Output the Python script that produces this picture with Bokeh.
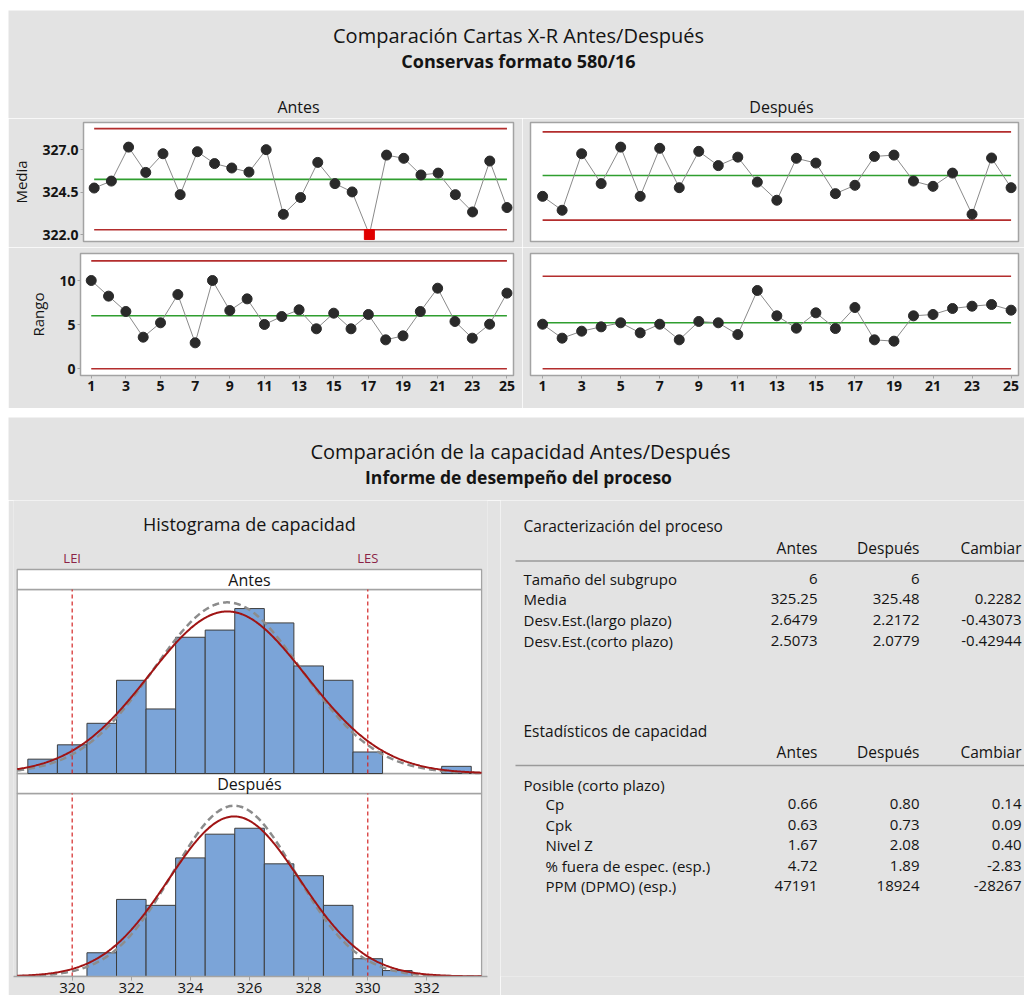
import numpy as np
from bokeh.plotting import figure
from bokeh.layouts import column, row
from bokeh.models import Range1d, FixedTicker, PrintfTickFormatter, Spacer
from bokeh.core.properties import value
from bokeh.embed import file_html
from bokeh.resources import INLINE

FONT = "Open Sans"
BG = "#e3e3e3"
EDGE = "#a3a3a3"
TXT = "#141414"
RED = "#b32d2d"
GREEN = "#2f9e2f"

# ---------------- data ----------------
subgroups = list(range(1, 26))
media_antes = [324.74, 325.15, 327.15, 325.66, 326.76, 324.35, 326.88, 326.18, 325.92, 325.68,
               327.00, 323.19, 324.18, 326.25, 325.00, 324.51, 322.00, 326.68, 326.49, 325.51,
               325.62, 324.35, 323.33, 326.33, 323.59]
media_despues = [324.25, 323.43, 326.76, 325.00, 327.15, 324.25, 327.08, 324.76, 326.90, 326.06,
                 326.56, 325.09, 324.02, 326.49, 326.21, 324.41, 324.90, 326.60, 326.68, 325.15,
                 324.84, 325.62, 323.19, 326.51, 324.76]
rango_antes = [10.0, 8.23, 6.49, 3.58, 5.21, 8.41, 2.94, 10.0, 6.60, 7.92, 5.02, 5.92, 6.68, 4.53, 6.30,
               4.53, 6.15, 3.28, 3.73, 6.49, 9.13, 5.36, 3.47, 5.05, 8.57]
rango_despues = [5.05, 3.47, 4.26, 4.75, 5.21, 4.07, 5.05, 3.28, 5.36, 5.21, 3.88, 8.87, 6.00, 4.60, 6.34,
                 4.56, 6.94, 3.28, 3.13, 6.00, 6.15, 6.83, 7.09, 7.28, 6.64]
# control limits: [Antes, Después]
xbar_cl = [325.25, 325.48]
xbar_ucl = [328.24, 328.05]
xbar_lcl = [322.28, 322.85]
r_cl = [6.00, 5.21]
r_ucl = [12.23, 10.49]
r_lcl = [0.0, 0.0]
media_ticks = [322.0, 324.5, 327.0]
rango_ticks = [0, 5, 10]
subgroup_ticks = list(range(1, 26, 2))

# histogram (bins of width 1 centred on integers)
bin_centers = list(range(319, 334))
hist_antes = [2, 4, 7, 13, 9, 19, 20, 23, 21, 15, 13, 3, 0, 0, 1]
hist_despues = [0, 0, 4, 13, 12, 20, 24, 25, 19, 17, 12, 3, 1, 0, 0]
LEI, LES = 320, 330
hist_ticks = [320, 322, 324, 326, 328, 330, 332]
n_total = 150
mean = [325.25, 325.48]
sd_overall = [2.6479, 2.2172]
sd_within = [2.5073, 2.0779]

# tables
t1_rows = ["Tamaño del subgrupo", "Media", "Desv.Est.(largo plazo)", "Desv.Est.(corto plazo)"]
t1_antes = ["6", "325.25", "2.6479", "2.5073"]
t1_despues = ["6", "325.48", "2.2172", "2.0779"]
t1_cambiar = ["", "0.2282", "-0.43073", "-0.42944"]
t2_rows = ["Cp", "Cpk", "Nivel Z", "% fuera de espec. (esp.)", "PPM (DPMO) (esp.)"]
t2_antes = ["0.66", "0.63", "1.67", "4.72", "47191"]
t2_despues = ["0.80", "0.73", "2.08", "1.89", "18924"]
t2_cambiar = ["0.14", "0.09", "0.40", "-2.83", "-28267"]


# ---------------- helpers ----------------
def make_fig(width, height, x_range, y_range, x_loc=None, y_loc=None, borders=(0, 0, 0, 0)):
    p = figure(width=width, height=height, x_range=x_range, y_range=y_range,
               output_backend="svg", toolbar_location=None, title=None,
               x_axis_location=x_loc, y_axis_location=y_loc)
    p.min_border_left, p.min_border_right, p.min_border_top, p.min_border_bottom = borders
    p.border_fill_color = BG
    p.background_fill_color = "white"
    p.outline_line_color = EDGE
    p.outline_line_width = 1.5
    p.grid.visible = False
    return p


def text_fig(width, height, x0, x1, y0, y1, borders=(0, 0, 0, 0)):
    p = make_fig(width, height, Range1d(x0, x1), Range1d(y1, y0), borders=borders)
    p.background_fill_color = BG
    p.outline_line_color = None
    return p


def put_text(p, xs, ys, texts, size="15px", align="left", style="normal", color=TXT, **kw):
    p.text(x=xs, y=ys, text=texts, text_font=value(FONT), text_font_size=size,
           text_align=align, text_baseline="middle", text_font_style=style, text_color=color, **kw)


def style_axis(ax, ticks, size="14px", style="bold"):
    ax.ticker = FixedTicker(ticks=ticks)
    ax.axis_line_color = None
    ax.major_tick_line_color = EDGE
    ax.major_tick_out = 3
    ax.major_tick_in = 0
    ax.minor_tick_line_color = None
    ax.major_label_standoff = 2
    ax.major_label_text_font = FONT
    ax.major_label_text_font_size = size
    ax.major_label_text_font_style = style
    ax.major_label_text_color = TXT


def control_chart(p, values, cl, ucl, lcl):
    xs = subgroups
    ends = [xs[0], xs[-1]]
    p.line(ends, [ucl, ucl], line_color=RED, line_width=1.6)
    p.line(ends, [lcl, lcl], line_color=RED, line_width=1.6)
    p.line(ends, [cl, cl], line_color=GREEN, line_width=1.6)
    p.line(xs, values, line_color="#8a8a8a", line_width=1)
    inx = [x for x, v in zip(xs, values) if lcl <= v <= ucl]
    inv = [v for v in values if lcl <= v <= ucl]
    outx = [x for x, v in zip(xs, values) if not (lcl <= v <= ucl)]
    outv = [v for v in values if not (lcl <= v <= ucl)]
    p.scatter(inx, inv, size=10, marker="circle", fill_color="#2a2a2a", line_color="#2a2a2a")
    p.scatter(outx, outv, size=10, marker="square", fill_color="#e00000", line_color="#e00000")


def y_label(ax, label):
    ax.axis_label = label
    ax.axis_label_text_font = FONT
    ax.axis_label_text_font_size = "15px"
    ax.axis_label_text_font_style = "normal"
    ax.axis_label_text_color = TXT
    ax.axis_label_standoff = 8


# ---------------- top section: X-R charts ----------------
t1 = text_fig(1016, 108, 8, 1024, 10, 118)
put_text(t1, [518], [35], ["Comparación Cartas X-R Antes/Después"], size="20px", align="center")
put_text(t1, [518], [60], ["Conservas formato 580/16"], size="18px", align="center", style="bold")
put_text(t1, [298, 781], [106, 106], ["Antes", "Después"], size="16px", align="center")

XR = (0.38, 25.38)
MR = (321.59, 328.6)
RR = (-0.76, 13.06)

ma = make_fig(514, 129, Range1d(*XR), Range1d(*MR), y_loc="left", borders=(72, 9, 4, 6))
style_axis(ma.yaxis[0], media_ticks)
ma.yaxis[0].formatter = PrintfTickFormatter(format="%.1f")
y_label(ma.yaxis[0], "Media")
control_chart(ma, media_antes, xbar_cl[0], xbar_ucl[0], xbar_lcl[0])

md = make_fig(502, 129, Range1d(*XR), Range1d(*MR), borders=(8, 6, 4, 6))
control_chart(md, media_despues, xbar_cl[1], xbar_ucl[1], xbar_lcl[1])

ra = make_fig(514, 161, Range1d(*XR), Range1d(*RR), x_loc="below", y_loc="left", borders=(72, 9, 6, 33))
style_axis(ra.yaxis[0], rango_ticks)
style_axis(ra.xaxis[0], subgroup_ticks)
y_label(ra.yaxis[0], "Rango")
control_chart(ra, rango_antes, r_cl[0], r_ucl[0], r_lcl[0])

rd = make_fig(502, 161, Range1d(*XR), Range1d(*RR), x_loc="below", borders=(8, 6, 6, 33))
style_axis(rd.xaxis[0], subgroup_ticks)
control_chart(rd, rango_despues, r_cl[1], r_ucl[1], r_lcl[1])

# ---------------- bottom section: capability ----------------
bt = text_fig(1016, 83, 8, 1024, 417, 500)
put_text(bt, [520], [451], ["Comparación de la capacidad Antes/Después"], size="20px", align="center")
put_text(bt, [518], [476], ["Informe de desempeño del proceso"], size="17.5px", align="center", style="bold")

PA_H, PD_H, STRIP_H, FRAME_H, AX_H = 184, 183, 20, 476, 19
kA = PA_H / 25.66
kD = PD_H / 30.86
HX0, HX1 = 318.14, 333.85
hist = make_fig(492, 495, Range1d(318.015, 334.05), Range1d(0, FRAME_H / kD),
                x_loc="below", borders=(5, 13, 0, AX_H))
hist.background_fill_color = BG
hist.outline_line_color = None
A0 = PD_H + STRIP_H   # pixel offset of the Antes panel bottom above the axis
hist.extra_y_ranges = {"antes": Range1d(-A0 / kA, (FRAME_H - A0) / kA)}


def Yd(px):
    return px / kD


# panels and strips
hist.quad(left=[HX0] * 4, right=[HX1] * 4,
          bottom=[Yd(0), Yd(PD_H), Yd(A0), Yd(A0 + PA_H)],
          top=[Yd(PD_H), Yd(A0), Yd(A0 + PA_H), Yd(A0 + PA_H + STRIP_H)],
          fill_color="white", line_color=EDGE, line_width=1.3)

xc = np.linspace(HX0, HX1, 400)
panels = [(hist_antes, "antes", 0, PA_H / kA), (hist_despues, "default", 1, PD_H / kD)]
for counts, rname, i, top in panels:
    cx = [c for c, n in zip(bin_centers, counts) if n > 0]
    cn = [n for n in counts if n > 0]
    hist.quad(left=[c - 0.5 for c in cx], right=[c + 0.5 for c in cx], bottom=[0] * len(cx), top=cn,
              fill_color="#7ba4d8", line_color="#3d3d3d", line_width=1, y_range_name=rname)
    yw = n_total * np.exp(-0.5 * ((xc - mean[i]) / sd_within[i]) ** 2) / (sd_within[i] * np.sqrt(2 * np.pi))
    yo = n_total * np.exp(-0.5 * ((xc - mean[i]) / sd_overall[i]) ** 2) / (sd_overall[i] * np.sqrt(2 * np.pi))
    hist.line(xc, yw, line_color="#8c8c8c", line_width=2.5, line_dash="7 4", y_range_name=rname)
    hist.line(xc, yo, line_color="#a01414", line_width=2, y_range_name=rname)
    hist.segment(x0=[LEI, LES], y0=[0, 0], x1=[LEI, LES], y1=[top, top], line_color="#d42424",
                 line_width=1.2, line_dash="4 3", y_range_name=rname)

mid = (HX0 + HX1) / 2
put_text(hist, [mid, mid], [Yd(PD_H + STRIP_H / 2), Yd(A0 + PA_H + STRIP_H / 2)],
         ["Después", "Antes"], size="16px", align="center")
put_text(hist, [LEI, LES], [Yd(419), Yd(419)], ["LEI", "LES"], size="13px", align="center", color="#8b2346")
put_text(hist, [mid], [Yd(453)], ["Histograma de capacidad"], size="18px", align="center")

hx = hist.xaxis[0]
style_axis(hx, hist_ticks, size="15px", style="normal")
hx.major_tick_out = 4
hx.axis_line_color = EDGE
hx.axis_line_width = 1.5

# table (its frame is aligned with the histogram frame: 500 .. 976)
TS = "15px"
CR = 1021  # right edge of the "Cambiar" column
tb = text_fig(524, 495, 500, 1024, 500, 500 + FRAME_H, borders=(0, 0, 0, AX_H))
put_text(tb, [523], [525], ["Caracterización del proceso"], size="15.5px")
put_text(tb, [817, 919, CR], [547] * 3, ["Antes", "Después", "Cambiar"], size="15.5px", align="right")
tb.line([515, 1024], [560.5, 560.5], line_color="#9a9a9a", line_width=1.5)
ys1 = [578 + 20.8 * i for i in range(len(t1_rows))]
put_text(tb, [523] * len(ys1), ys1, t1_rows, size=TS)
put_text(tb, [817] * len(ys1), ys1, t1_antes, size=TS, align="right")
put_text(tb, [919] * len(ys1), ys1, t1_despues, size=TS, align="right")
put_text(tb, [CR] * len(ys1), ys1, t1_cambiar, size=TS, align="right")

put_text(tb, [523], [730], ["Estadísticos de capacidad"], size="15.5px")
put_text(tb, [817, 919, CR], [751.5] * 3, ["Antes", "Después", "Cambiar"], size="15.5px", align="right")
tb.line([515, 1024], [765, 765], line_color="#9a9a9a", line_width=1.5)
put_text(tb, [523], [784.5], ["Posible (corto plazo)"], size=TS)
ys2 = [803.5 + 20.6 * i for i in range(len(t2_rows))]
put_text(tb, [545] * len(ys2), ys2, t2_rows, size=TS)
put_text(tb, [817] * len(ys2), ys2, t2_antes, size=TS, align="right")
put_text(tb, [919] * len(ys2), ys2, t2_despues, size=TS, align="right")
put_text(tb, [CR] * len(ys2), ys2, t2_cambiar, size=TS, align="right")

content = column(
    Spacer(width=1016, height=10),
    t1,
    row(ma, md),
    row(ra, rd),
    Spacer(width=1016, height=9),
    bt,
    row(hist, tb),
)
layout = row(Spacer(width=8, height=995), content)

open("out.html", "w").write(file_html(layout, INLINE))
